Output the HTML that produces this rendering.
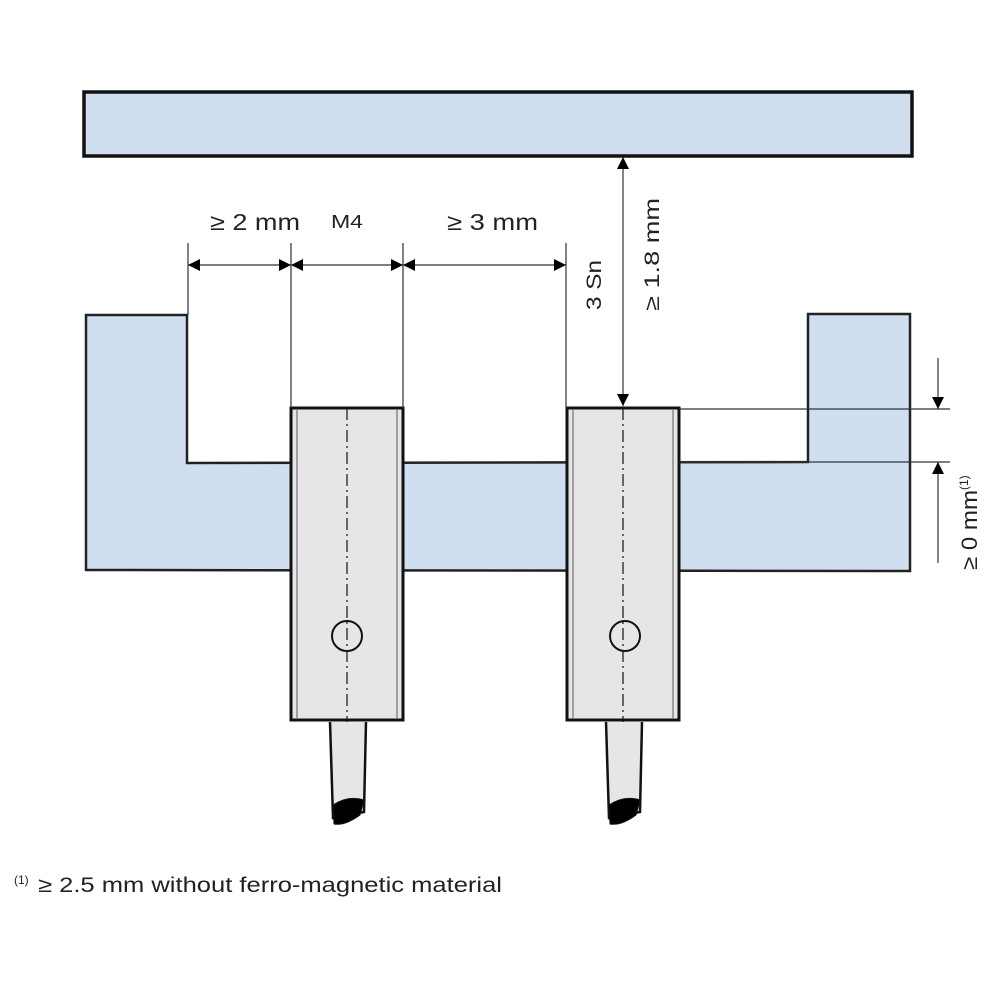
<!DOCTYPE html>
<html><head><meta charset="utf-8"><style>
html,body{margin:0;padding:0;background:#fff;}
svg{display:block;font-family:"Liberation Sans",sans-serif;}
</style></head><body>
<svg width="1000" height="1000" viewBox="0 0 1000 1000" xmlns="http://www.w3.org/2000/svg">
<defs>
<marker id="a" viewBox="0 0 10 10" refX="10" refY="5" markerWidth="22" markerHeight="12" markerUnits="userSpaceOnUse" orient="auto"><path d="M0,0 L10,5 L0,10 Z" fill="#000"/></marker>
</defs>
<rect x="84" y="92" width="828" height="64" fill="#cfdff0" stroke="#111" stroke-width="3.5"/>
<polygon points="86,315 187,315 187,463 808,462 808,314 910,314 910,571 86,570" fill="#cfdff0" stroke="#222" stroke-width="2.5"/>
<g stroke="#111">
<rect x="291" y="408" width="112" height="312" fill="#e6e6e8" stroke-width="3"/>
<line x1="297" y1="410" x2="297" y2="718" stroke="#888" stroke-width="1.5"/>
<line x1="397" y1="410" x2="397" y2="718" stroke="#888" stroke-width="1.5"/>
<line x1="347" y1="408" x2="347" y2="735" stroke-dasharray="12,4,2,4" stroke-width="1.2"/>
<circle cx="347" cy="636" r="15" fill="none" stroke-width="2"/>
<path d="M330,722 L333,818 L364,812 L366,722" fill="#e6e6e8" stroke-width="2.5"/>
<path d="M333,805 Q348,795 364,800 L360,815 Q345,826 334,824 Z" fill="#000"/>
</g>
<g stroke="#111">
<rect x="567" y="408" width="112" height="312" fill="#e6e6e8" stroke-width="3"/>
<line x1="573" y1="410" x2="573" y2="718" stroke="#888" stroke-width="1.5"/>
<line x1="673" y1="410" x2="673" y2="718" stroke="#888" stroke-width="1.5"/>
<line x1="623" y1="408" x2="623" y2="735" stroke-dasharray="12,4,2,4" stroke-width="1.2"/>
<circle cx="625" cy="636" r="15" fill="none" stroke-width="2"/>
<path d="M606,722 L609,818 L640,812 L642,722" fill="#e6e6e8" stroke-width="2.5"/>
<path d="M609,805 Q624,795 640,800 L636,815 Q621,826 610,824 Z" fill="#000"/>
</g>
<g stroke="#333" stroke-width="1.2">
<line x1="188" y1="243" x2="188" y2="315"/>
<line x1="291" y1="243" x2="291" y2="408"/>
<line x1="403" y1="243" x2="403" y2="408"/>
<line x1="566" y1="243" x2="566" y2="408"/>
<line x1="240" y1="265" x2="188" y2="265" marker-end="url(#a)"/>
<line x1="240" y1="265" x2="291" y2="265" marker-end="url(#a)"/>
<line x1="347" y1="265" x2="291" y2="265" marker-end="url(#a)"/>
<line x1="347" y1="265" x2="403" y2="265" marker-end="url(#a)"/>
<line x1="485" y1="265" x2="403" y2="265" marker-end="url(#a)"/>
<line x1="485" y1="265" x2="566" y2="265" marker-end="url(#a)"/>
<line x1="623" y1="280" x2="623" y2="157" marker-end="url(#a)"/>
<line x1="623" y1="280" x2="623" y2="406" marker-end="url(#a)"/>
<line x1="679" y1="409" x2="950" y2="409"/>
<line x1="679" y1="462" x2="950" y2="462"/>
<line x1="938" y1="358" x2="938" y2="409" marker-end="url(#a)"/>
<line x1="938" y1="563" x2="938" y2="462" marker-end="url(#a)"/>
</g>
<g fill="#222">
<text x="210" y="230" font-size="23" textLength="90" lengthAdjust="spacingAndGlyphs">≥ 2 mm</text>
<text x="331" y="228" font-size="18" textLength="32" lengthAdjust="spacingAndGlyphs">M4</text>
<text x="447" y="230" font-size="23" textLength="91" lengthAdjust="spacingAndGlyphs">≥ 3 mm</text>
<text transform="translate(601,310) rotate(-90)" font-size="21" textLength="50" lengthAdjust="spacingAndGlyphs">3 Sn</text>
<text transform="translate(659,311) rotate(-90)" font-size="21" textLength="113" lengthAdjust="spacingAndGlyphs">≥ 1.8 mm</text>
<text transform="translate(977,570) rotate(-90)" font-size="22"><tspan textLength="80" lengthAdjust="spacingAndGlyphs">≥ 0 mm</tspan><tspan font-size="12" dy="-9">(1)</tspan></text>
<text x="14" y="892" font-size="21"><tspan font-size="12" dy="-8">(1)</tspan><tspan dy="8" x="38" textLength="464" lengthAdjust="spacingAndGlyphs">≥ 2.5 mm without ferro-magnetic material</tspan></text>
</g>
</svg>
</body></html>
